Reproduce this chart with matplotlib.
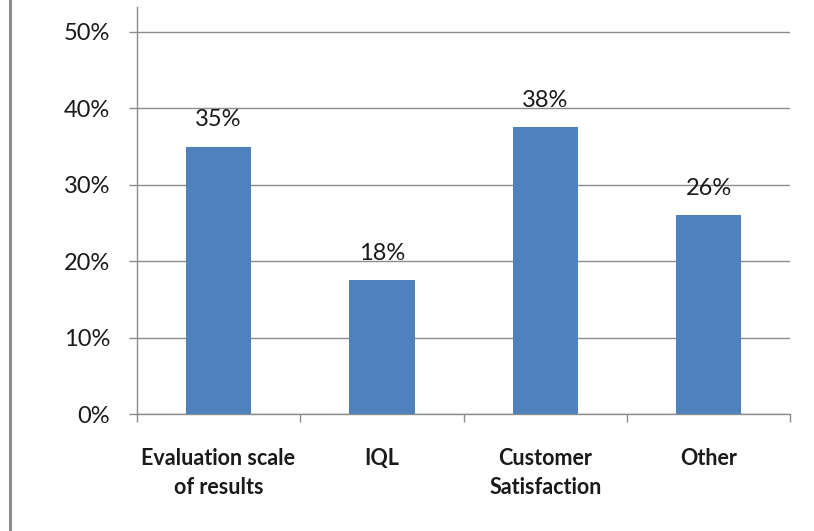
import matplotlib
matplotlib.use("Agg")
import matplotlib.pyplot as plt
from matplotlib.lines import Line2D

# ── Data ───────────────────────────────────────────────────────────────────────
categories = ["Evaluation scale\nof results", "IQL", "Customer\nSatisfaction", "Other"]
values     = [35.0, 17.5, 37.5, 26.0]   # percent
y_ticks    = [0, 10, 20, 30, 40, 50]

BAR_COLOR  = "#4F81BD"
GRID_COLOR = "#8C8C8C"
TEXT_COLOR = "#1A1A1A"

plt.rcParams["font.family"] = ["Lato", "DejaVu Sans"]

fig = plt.figure(figsize=(8.14, 5.31), dpi=100)
ax = fig.add_axes([0.168, 0.22, 0.803, 0.767])

x = list(range(len(categories)))
bars = ax.bar(x, values, width=0.4, color=BAR_COLOR, zorder=3)

for rect, v in zip(bars, values):
    ax.annotate(f"{v:.0f}%", (rect.get_x() + rect.get_width() / 2, v),
                xytext=(0, 15), textcoords="offset points",
                ha="center", va="baseline", fontsize=17, color=TEXT_COLOR)

ax.set_xlim(-0.5, len(categories) - 0.5)
ax.set_ylim(0, 50 * 407 / 382)
ax.set_yticks(y_ticks)
ax.set_yticklabels([f"{t}%" for t in y_ticks], fontsize=17, color=TEXT_COLOR)
ax.yaxis.grid(True, color=GRID_COLOR, linewidth=1, zorder=0)

# category boundaries carry the ticks, labels sit in the middle
ax.set_xticks([i - 0.5 for i in range(len(categories) + 1)])
ax.set_xticklabels([])
ax.set_xticks(x, minor=True)
ax.set_xticklabels(categories, minor=True, fontsize=15.5, fontweight="bold",
                   linespacing=1.5, color=TEXT_COLOR)
ax.tick_params(axis="x", which="minor", length=0, pad=24)
ax.tick_params(axis="x", which="major", length=6, color=GRID_COLOR, width=1)
ax.tick_params(axis="y", length=6, color=GRID_COLOR, width=1, pad=13)

for side in ("top", "right"):
    ax.spines[side].set_visible(False)
for side in ("left", "bottom"):
    ax.spines[side].set_color(GRID_COLOR)
    ax.spines[side].set_linewidth(1)

# grey border line at the far left of the picture
fig.add_artist(Line2D([0.012, 0.012], [0.0, 1.0], transform=fig.transFigure,
                      color="#8C8C8C", linewidth=2.2))

fig.savefig("out.png", dpi=100)
